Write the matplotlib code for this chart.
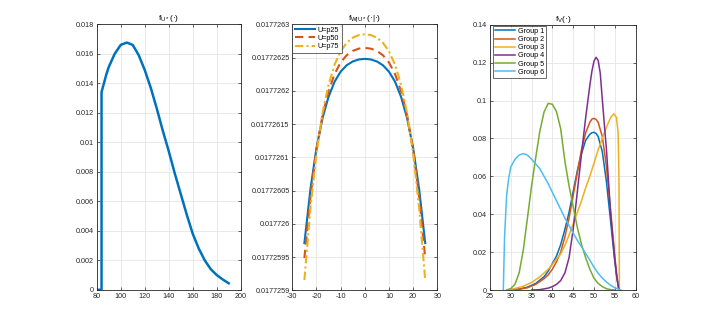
import numpy as np
import matplotlib
matplotlib.use("Agg")
import matplotlib.pyplot as plt

# ---------------- data ----------------
# Left panel: f_{U*}
u_x = [80, 84, 84, 86, 88, 90, 95, 100, 105, 110, 115, 120, 125, 130, 135, 140,
       145, 150, 155, 160, 165, 170, 175, 180, 185, 190]
u_y = [0, 0, 0.0134, 0.0140, 0.0146, 0.0151, 0.0160, 0.0166, 0.01676, 0.0166,
       0.0159, 0.0149, 0.0137, 0.0123, 0.0108, 0.0094, 0.0079, 0.0065, 0.0051,
       0.0038, 0.0028, 0.0020, 0.0014, 0.0010, 0.0007, 0.00044]
u_xticks = [80, 100, 120, 140, 160, 180, 200]
u_yticks = [0, 0.002, 0.004, 0.006, 0.008, 0.010, 0.012, 0.014, 0.016, 0.018]
u_yticklabels = ["0", "0.002", "0.004", "0.006", "0.008", "0.01", "0.012",
                 "0.014", "0.016", "0.018"]

# Middle panel: f_{W|U*}, values given as offsets (x1e-8) above 0.0177259
w_base = 0.0177259
w_x = [-25, -22.5, -20, -17.5, -15, -12.5, -10, -7.5, -5, -2.5, 0,
       2.5, 5, 7.5, 10, 12.5, 15, 17.5, 20, 22.5, 25]
w_p25 = [7.1, 15.2, 21.4, 25.9, 29.1, 31.38, 32.88, 33.84, 34.41, 34.71, 34.8,
         34.71, 34.41, 33.84, 32.88, 31.38, 29.1, 25.9, 21.4, 15.2, 7.1]
w_p50 = [4.84, 14.08, 21.16, 26.29, 29.94, 32.54, 34.26, 35.35, 36.0, 36.34, 36.45,
         36.34, 36.0, 35.35, 34.26, 32.54, 29.94, 26.29, 21.16, 14.08, 4.84]
w_p75 = [1.55, 12.36, 20.63, 26.63, 30.90, 33.94, 35.94, 37.22, 37.98, 38.38, 38.50,
         38.38, 37.98, 37.22, 35.94, 33.94, 30.90, 26.63, 20.63, 12.36, 1.55]
w_labels = ["U=p25", "U=p50", "U=p75"]
w_xticks = [-30, -20, -10, 0, 10, 20, 30]
w_yticks = [0.0177259, 0.01772595, 0.017726, 0.01772605, 0.0177261,
            0.01772615, 0.0177262, 0.01772625, 0.0177263]
w_yticklabels = ["0.0177259", "0.01772595", "0.017726", "0.01772605", "0.0177261",
                 "0.01772615", "0.0177262", "0.01772625", "0.0177263"]

# Right panel: f_V by group
g1_x = [30, 32, 34, 36, 38, 39, 40, 41, 42, 43, 44, 45, 46, 47, 48, 49, 49.5, 50, 50.5, 51,
        52, 53, 54, 55, 55.5, 56]
g1_y = [0, 0.0005, 0.0015, 0.0035, 0.007, 0.010, 0.014, 0.018, 0.024, 0.032, 0.041, 0.052,
        0.063, 0.072, 0.079, 0.0822, 0.0830, 0.0832, 0.0826, 0.081, 0.073, 0.057, 0.036,
        0.015, 0.006, 0]
g2_x = [30, 32, 34, 36, 38, 39, 40, 41, 42, 43, 44, 45, 46, 47, 48, 49, 49.5, 50, 50.5, 51,
        52, 53, 54, 55, 55.5, 56]
g2_y = [0, 0.0004, 0.0012, 0.003, 0.006, 0.008, 0.011, 0.015, 0.020, 0.028, 0.038, 0.050,
        0.062, 0.074, 0.083, 0.0885, 0.0902, 0.0906, 0.0900, 0.0885, 0.081, 0.065, 0.042,
        0.018, 0.007, 0]
g3_x = [29, 31, 33, 35, 37, 39, 40, 41, 42, 43, 44, 45, 46, 47, 48, 49, 50, 51, 52, 53, 54,
        54.8, 55.4, 55.8, 56.0, 56.1]
g3_y = [0, 0.0008, 0.002, 0.004, 0.007, 0.011, 0.0135, 0.0165, 0.019, 0.0235, 0.029, 0.035,
        0.041, 0.047, 0.054, 0.060, 0.067, 0.074, 0.080, 0.086, 0.091, 0.093, 0.091, 0.083, 0.06, 0]
g4_x = [35, 37, 39, 40, 41, 42, 43, 44, 45, 46, 47, 48, 49, 49.5, 50, 50.5, 51, 51.5, 52,
        52.5, 53, 54, 55, 55.5, 56]
g4_y = [0, 0.0002, 0.001, 0.0018, 0.003, 0.005, 0.009, 0.017, 0.032, 0.052, 0.072, 0.091,
        0.108, 0.1155, 0.1208, 0.1228, 0.1212, 0.1145, 0.1005, 0.087, 0.074, 0.040, 0.016,
        0.007, 0]
g5_x = [29, 30, 31, 32, 33, 34, 35, 36, 37, 38, 39, 40, 41, 42, 43, 44, 45, 46, 47, 48, 49,
        50, 51, 52, 53, 54, 55]
g5_y = [0, 0.0008, 0.003, 0.009, 0.021, 0.038, 0.055, 0.070, 0.084, 0.094, 0.0985, 0.098,
        0.094, 0.085, 0.068, 0.055, 0.044, 0.033, 0.024, 0.017, 0.011, 0.0062, 0.0035, 0.0018,
        0.0007, 0.0002, 0]
g6_x = [28.2, 28.5, 29, 29.5, 30, 31, 32, 33, 34, 35, 36, 37, 38, 39, 40, 41, 42, 43, 44, 45,
        46, 47, 48, 49, 50, 51, 52, 53, 54, 55, 56, 56.5]
g6_y = [0, 0.028, 0.050, 0.059, 0.065, 0.069, 0.0712, 0.072, 0.0712, 0.069, 0.0665, 0.064,
        0.060, 0.056, 0.0515, 0.047, 0.0425, 0.038, 0.034, 0.030, 0.0262, 0.0228, 0.0193,
        0.0158, 0.0120, 0.0088, 0.0063, 0.0042, 0.0025, 0.0012, 0.0003, 0]
v_labels = ["Group 1", "Group 2", "Group 3", "Group 4", "Group 5", "Group 6"]
v_xticks = [25, 30, 35, 40, 45, 50, 55, 60]
v_yticks = [0, 0.02, 0.04, 0.06, 0.08, 0.10, 0.12, 0.14]
v_yticklabels = ["0", "0.02", "0.04", "0.06", "0.08", "0.1", "0.12", "0.14"]

# ---------------- style ----------------
plt.rcParams['font.family'] = ['Liberation Sans', 'DejaVu Sans']
plt.rcParams['mathtext.default'] = 'regular'
matlab_colors = ['#0072BD', '#D95319', '#EDB120', '#7E2F8E', '#77AC30', '#4DBEEE']
axcol = '#262626'
fs = 5.2

fig = plt.figure(figsize=(7.01, 3.27), dpi=100)

def style(ax, xticks, yticks, yticklabels, xlim, ylim, title):
    ax.set_xlim(*xlim)
    ax.set_ylim(*ylim)
    ax.set_xticks(xticks)
    ax.set_xticklabels([str(t) for t in xticks])
    ax.set_yticks(yticks)
    ax.set_yticklabels(yticklabels)
    ax.tick_params(direction='in', length=2.5, width=0.5, colors=axcol,
                   labelsize=fs, top=True, right=True, pad=2)
    for s in ax.spines.values():
        s.set_color(axcol)
        s.set_linewidth(0.6)
    ax.grid(True, color='#e5e5e5', linewidth=0.6)
    ax.set_axisbelow(True)
    ax.set_title(title, fontsize=6, color='#000000', pad=3)

# Left
ax1 = fig.add_axes([0.138, 0.1138, 0.2054, 0.812])
ax1.plot(u_x, u_y, color=matlab_colors[0], lw=1.8)
style(ax1, u_xticks, u_yticks, u_yticklabels, (80, 200), (0, 0.018), 'f$_{U*}$(·)')

# Middle
ax2 = fig.add_axes([0.417, 0.1123, 0.2068, 0.8134])
wx = np.array(w_x)
ax2.plot(wx, w_base + np.array(w_p25) * 1e-8, color=matlab_colors[0], lw=1.5, ls='-', label=w_labels[0])
ax2.plot(wx, w_base + np.array(w_p50) * 1e-8, color=matlab_colors[1], lw=1.5, ls='--', dashes=(4, 2.5), label=w_labels[1])
ax2.plot(wx, w_base + np.array(w_p75) * 1e-8, color=matlab_colors[2], lw=1.5, ls='-.', dashes=(4, 1.5, 1, 1.5), label=w_labels[2])
style(ax2, w_xticks, w_yticks, w_yticklabels, (-30, 30), (0.0177259, 0.0177263), 'f$_{W|U*}$(·|·)')
leg2 = ax2.legend(loc='upper left', fontsize=fs, frameon=True, fancybox=False,
                  edgecolor=axcol, borderaxespad=0, handlelength=2.8, handletextpad=0.4,
                  labelspacing=0.15, borderpad=0.35)
leg2.get_frame().set_linewidth(0.6)

# Right
ax3 = fig.add_axes([0.699, 0.1131, 0.2077, 0.8113])
gx = [g1_x, g2_x, g3_x, g4_x, g5_x, g6_x]
gy = [g1_y, g2_y, g3_y, g4_y, g5_y, g6_y]
for i in range(6):
    ax3.plot(gx[i], gy[i], color=matlab_colors[i], lw=1.1, label=v_labels[i])
style(ax3, v_xticks, v_yticks, v_yticklabels, (25, 60), (0, 0.14), 'f$_V$(·)')
leg3 = ax3.legend(loc='upper left', fontsize=fs, frameon=True, fancybox=False,
                  edgecolor=axcol, borderaxespad=0.15, handlelength=2.8, handletextpad=0.4,
                  labelspacing=0.15, borderpad=0.3)
leg3.get_frame().set_linewidth(0.6)
leg3.set_bbox_to_anchor((0.01, 1.0), transform=ax3.transAxes)

fig.savefig('out.png', dpi=100)
